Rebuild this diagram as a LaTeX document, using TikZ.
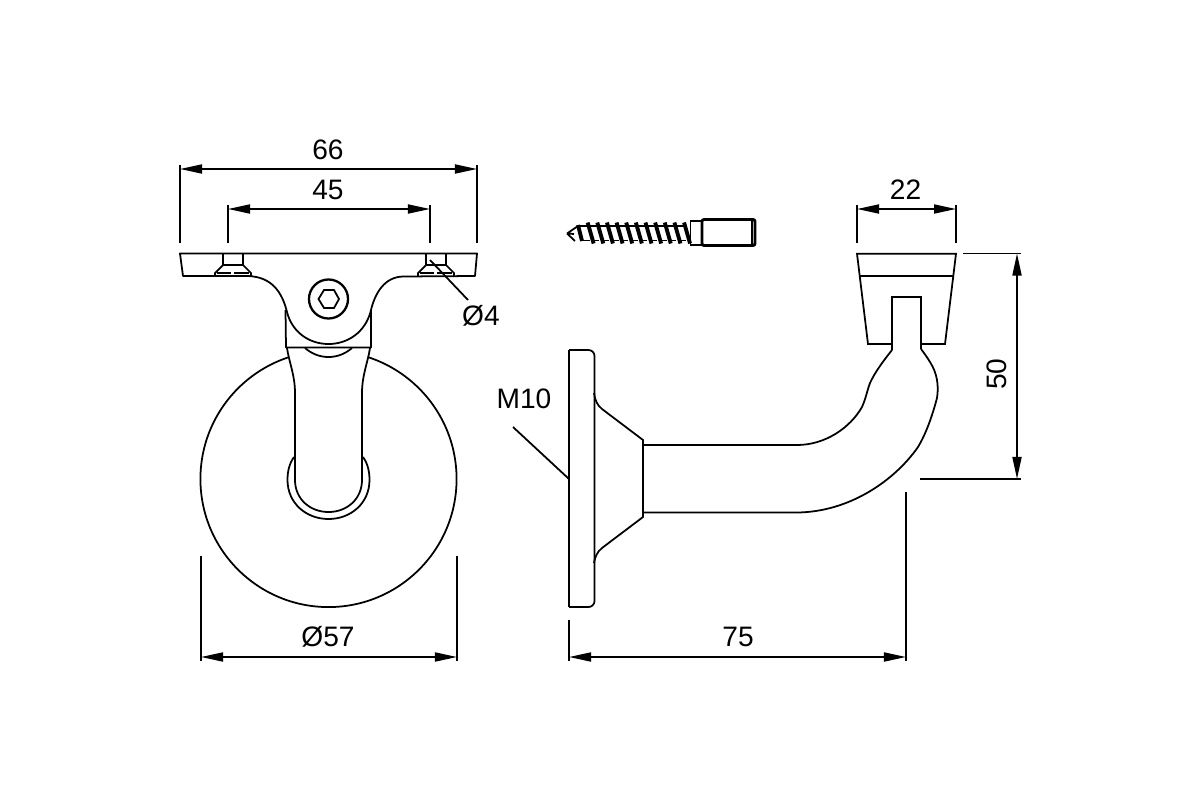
\documentclass[tikz,border=0pt]{standalone}
\usepackage{fontspec}
\setmainfont{Liberation Sans}
\usetikzlibrary{arrows.meta}
\begin{document}
\begin{tikzpicture}[x=0.01cm, y=-0.01cm, line width=0.5pt,
  part/.style={draw=black, fill=white, line join=round},
  dimline/.style={{Triangle[length=0.22cm, width=0.09cm]}-{Triangle[length=0.22cm, width=0.09cm]}},
  label/.style={font=\fontsize{8}{10}\selectfont, inner sep=0pt}]
\useasboundingbox (0,0) rectangle (1200,800);

% front view
\node[circle, draw, inner sep=0pt, minimum size=2.56cm] (disc) at (328.5,479) {};
\draw[part] (294,457) .. controls (289,464) and (287.5,472) .. (287.5,480) .. controls (287.5,503) and (306,519) .. (328.5,519) .. controls (351,519) and (369.5,503) .. (369.5,480) .. controls (369.5,472) and (368,464) .. (363,457);
\draw[part] (287,348) .. controls (289,362) and (295,375) .. (295,393) -- (295,480) .. controls (295,499) and (310,512) .. (328.5,512) .. controls (347,512) and (362,499) .. (362,480) -- (362,393) .. controls (362,375) and (368,362) .. (370,348);
\draw (305,348) .. controls (312,354) and (320,357) .. (328.5,357) .. controls (337,357) and (345,354) .. (352,348);
\draw[part] (285.5,310) -- (286,347.5) -- (371,347.5) -- (371,310);
\draw[part] (180,253.5) -- (477,253.5) -- (475,276) -- (403,276.5) .. controls (385,277) and (375,292) .. (370.5,312) .. controls (365,332) and (348,344) .. (328.5,344) .. controls (309,344) and (292,332) .. (287,312) .. controls (282,292) and (272,277) .. (248,276) -- (183,276) -- cycle;

\node[circle, draw, line width=0.65pt, inner sep=0pt, minimum size=0.39cm] (bolt) at (328.5,299) {};
\draw (318.5,299) -- (324,290) -- (334,290) -- (339,299) -- (334,308) -- (324,308) -- cycle;

% countersunk screws
\foreach \sx in {233,436}{
  \draw (\sx-10,253.5) -- (\sx-10,265) -- (\sx+10,265) -- (\sx+10,253.5);
  \draw (\sx-10,265) -- (\sx-18,273) -- (\sx-18,276);
  \draw (\sx+10,265) -- (\sx+18,273) -- (\sx+18,276);
  \draw (\sx-16,273) -- (\sx-2,273);
  \draw (\sx+1,273) -- (\sx+16,273);
}

% lag screw
\draw (567,233.5) -- (578,226) (567,233.5) -- (575,241) (567,233.5) -- (574,234);
\foreach \k in {0,...,11}{
  \pgfmathsetmacro{\tx}{578+9.64*\k}
  \pgfmathsetmacro{\nx}{\tx+9.64}
  \ifnum\k=0
    \draw[line width=1.1pt] (\tx,225) -- (\tx+4,241);
  \else
    \draw[line width=1.1pt] (\tx,222.5) -- (\tx+6,243.5);
  \fi
  \ifnum\k<11
    \draw (\tx+2,226) -- (\nx,226) (\tx+5,240.5) -- (\nx+2,240.5);
  \fi
}
\draw (690.5,221) rectangle (702,245);
\draw[line width=0.8pt, rounded corners=0.02cm] (702,219.5) rectangle (755,245.5);
\draw (752,220) -- (752,245);

% side view
\draw[part, rounded corners=0.06cm] (569,350) -- (594.5,350) -- (594.5,607) -- (569,607);
\draw (569,350) -- (569,607);
\draw (594,393) .. controls (595,400) and (597,405) .. (602,409) -- (643,440) -- (643,517) -- (602,548) .. controls (597,552) and (595,557) .. (594,563);
\draw (643,445) -- (797,445) .. controls (825,445) and (850,428) .. (862,407) .. controls (866,398) and (867,391) .. (870,383) .. controls (875,372) and (884,360) .. (892,350);
\draw (643,512.5) -- (797,512.5) .. controls (850,512) and (895,480) .. (918,447) .. controls (927,432) and (933,413) .. (937,398) .. controls (939,385) and (937,373) .. (930,362) .. controls (927,357) and (924,353) .. (921,349);
\draw (892,350) -- (892,297) -- (921,297) -- (921,349);
\draw (892,344) -- (868,344) -- (857,253.7) -- (956,253.7) -- (945,344) -- (921,344);
\draw (860,276) -- (953,276);

% dimensions
\coordinate (wa) at (180,169);
\coordinate (wb) at (477,169);
\coordinate (ha) at (228,209);
\coordinate (hb) at (430,209);
\coordinate (da) at (201,657);
\coordinate (db) at (457,657);
\coordinate (la) at (569,657);
\coordinate (lb) at (906,657);
\coordinate (ca) at (857,209);
\coordinate (cb) at (956,209);
\coordinate (ta) at (1017,253.5);
\coordinate (tb) at (1017,479);

\draw[dimline] (wa) -- (wb);
\draw[dimline] (ha) -- (hb);
\draw[dimline] (da) -- (db);
\draw[dimline] (la) -- (lb);
\draw[dimline] (ca) -- (cb);
\draw[dimline] (ta) -- (tb);

\draw (180,165) -- (180,243) (477,165) -- (477,243);
\draw (228,205) -- (228,243) (430,205) -- (430,243);
\draw (201,556) -- (201,661) (457,556) -- (457,661);
\draw (569,620) -- (569,661) (906,492) -- (906,661);
\draw (857,205) -- (857,243) (956,205) -- (956,243);
\draw (963,253.5) -- (1021,253.5) (920,479) -- (1021,479);

\coordinate (holdend) at (430,260);
\coordinate (holdfree) at (468,300);
\coordinate (threadend) at (569,479);
\coordinate (threadfree) at (513,427);
\draw (holdend) -- (holdfree);
\draw (threadend) -- (threadfree);

\node[label] (wlabel) at (328,150) {66};
\node[label] (hlabel) at (328,190) {45};
\node[label] (clabel) at (905.5,190) {22};
\node[label] (dlabel) at (328,637) {Ø57};
\node[label] (llabel) at (738,637) {75};
\node[label, rotate=90] (tlabel) at (997,374) {50};
\node[label] (slabel) at (481,316) {Ø4};
\node[label] (mlabel) at (524,399) {M10};
\end{tikzpicture}
\end{document}
